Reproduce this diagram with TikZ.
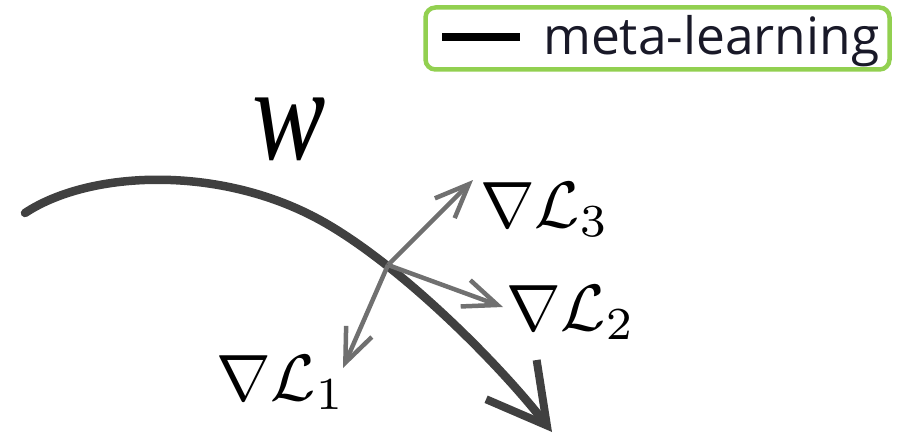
\documentclass[tikz,border=0pt]{standalone}
\usepackage{fontspec}
\newfontfamily\legendfont{Open Sans}
\newfontfamily\wfont{Liberation Serif}
\usetikzlibrary{arrows.meta}
\definecolor{legendgreen}{RGB}{146,208,80}
\definecolor{curvegray}{RGB}{64,64,64}
\definecolor{gradgray}{RGB}{112,112,112}
\definecolor{legendtext}{RGB}{25,25,40}
\newcommand{\biggrad}[1]{\scalebox{6.55}{$\nabla\mathcal{L}_{#1}$}}
\tikzset{
  mainpath/.style={draw=curvegray, line width=8.5pt, line cap=round,
    -{Straight Barb[length=58pt,width=64pt,line width=8pt]}},
  gradarrow/.style={draw=gradgray, line width=4.5pt,
    -{Straight Barb[length=34pt,width=28pt,line width=4.5pt]}},
  gradlabel/.style={inner sep=0pt, anchor=base west},
  legendbox/.style={draw=legendgreen, line width=4.5pt, rounded corners=10pt},
}
\begin{document}
\begin{tikzpicture}[x=1pt,y=-1pt]
\useasboundingbox (0,0) rectangle (898,436);
% legend
\node[legendbox, minimum width=464pt, minimum height=62pt] (legend) at (657.5,38.5) {};
\coordinate (ls) at (442,37);
\coordinate (le) at (520,37);
\draw[line width=8pt, black] (ls) -- (le);
\node[anchor=base west, inner sep=0pt, font=\legendfont\fontsize{51.5}{55}\selectfont, text=legendtext] (legtext) at (543,55) {meta-learning};
% main path
\coordinate (start) at (25,213);
\coordinate (mid) at (320,220);
\coordinate (stop) at (552,432);
\draw[mainpath] (start) .. controls (90,170) and (220,165) .. (mid) .. controls (400,264) and (500,365) .. (stop);
% w label
\node[inner sep=0pt, anchor=base, font=\wfont\itshape\fontsize{110}{116}\selectfont] (w) at (289,160) {\scalebox{1}[1.22]{w}};
% gradients
\coordinate (o) at (388,265);
\coordinate (g1) at (343,368);
\coordinate (g2) at (503,307);
\coordinate (g3) at (473,180);
\draw[gradarrow] (o) -- (g1);
\draw[gradarrow] (o) -- (g2);
\draw[gradarrow] (o) -- (g3);
\node[gradlabel] (l3) at (480,227) {\biggrad{3}};
\node[gradlabel] (l2) at (506,330) {\biggrad{2}};
\node[gradlabel] (l1) at (216,400) {\biggrad{1}};
\end{tikzpicture}
\end{document}
